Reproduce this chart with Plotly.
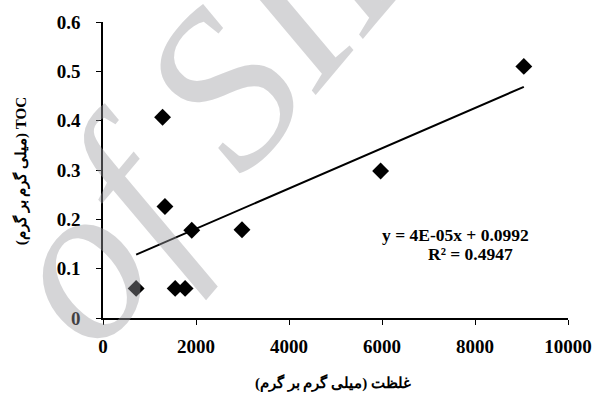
import numpy as np
import plotly.graph_objects as go

# Data
conc = [713, 1281, 1332, 1552, 1766, 1909, 2989, 5970, 9050]          # غلظت (mg/g)
toc = [0.06, 0.407, 0.226, 0.06, 0.06, 0.178, 0.179, 0.298, 0.51]      # TOC (mg/g)
x_ticks = [0, 2000, 4000, 6000, 8000, 10000]
y_ticks = [0, 0.1, 0.2, 0.3, 0.4, 0.5, 0.6]
eq_text = "y = 4E-05x + 0.0992"
r2_text = "R² = 0.4947"

# linear trendline (least squares, as Excel)
slope, intercept = np.polyfit(conc, toc, 1)
tx = [min(conc), max(conc)]
ty = [slope * v + intercept for v in tx]

# plot area in pixels
W, H = 604, 405
L, R, T, B = 103, 572, 21, 318

def px(xp):
    return (xp - L) / (R - L)

def py(yp):
    return (B - yp) / (B - T)

serif = "Liberation Serif, Times New Roman, DejaVu Serif, serif"

fig = go.Figure()
fig.add_trace(go.Scatter(
    x=conc, y=toc, mode="markers",
    marker=dict(symbol="diamond", size=13, color="black", line=dict(width=0)),
    showlegend=False, hoverinfo="skip"))
fig.add_trace(go.Scatter(
    x=tx, y=ty, mode="lines",
    line=dict(color="black", width=2),
    showlegend=False, hoverinfo="skip"))

axis_common = dict(
    showgrid=False, zeroline=False, showline=True, linecolor="black", linewidth=1.5,
    ticks="outside", ticklen=5, tickwidth=1.3, tickcolor="black",
    tickfont=dict(family=serif, size=19, color="black", weight="bold"),
)
fig.update_xaxes(range=[0, 10000], tickvals=x_ticks, tickformat="d",
                 ticklabelstandoff=5, **axis_common)
fig.update_yaxes(range=[0, 0.6], tickvals=y_ticks, ticklabelstandoff=12, **axis_common)

RLM = "\u200f"
x_title = RLM + "غلظت (میلی گرم بر گرم)" + RLM
y_title = "(میلی گرم بر گرم) TOC"

annotations = [
    # watermark
    dict(x=px(225), y=py(85), xref="paper", yref="paper", text="of SID",
         showarrow=False, textangle=-50, xanchor="center", yanchor="middle",
         font=dict(family=serif, size=225, style="italic", color="rgba(155,155,160,0.42)")),
    dict(x=px(459), y=py(235), xref="paper", yref="paper", text=eq_text, showarrow=False,
         xanchor="center", yanchor="middle",
         font=dict(family=serif, size=17.5, color="black", weight="bold")),
    dict(x=px(474), y=py(254), xref="paper", yref="paper", text=r2_text, showarrow=False,
         xanchor="center", yanchor="middle",
         font=dict(family=serif, size=17.5, color="black", weight="bold")),
    dict(x=px(335), y=py(383), xref="paper", yref="paper", text=x_title, showarrow=False,
         xanchor="center", yanchor="middle",
         font=dict(family=serif, size=15, color="black", weight="bold")),
    dict(x=px(21), y=py(171), xref="paper", yref="paper", text=y_title, showarrow=False,
         textangle=-90, xanchor="center", yanchor="middle",
         font=dict(family=serif, size=15, color="black", weight="bold")),
]

fig.update_layout(
    width=W, height=H,
    margin=dict(l=L, r=W - R, t=T, b=H - B, pad=0),
    paper_bgcolor="white", plot_bgcolor="white",
    annotations=annotations,
)

fig.write_html("out.html", config={"displayModeBar": False},
               post_script=["document.body.style.margin='0';"])
